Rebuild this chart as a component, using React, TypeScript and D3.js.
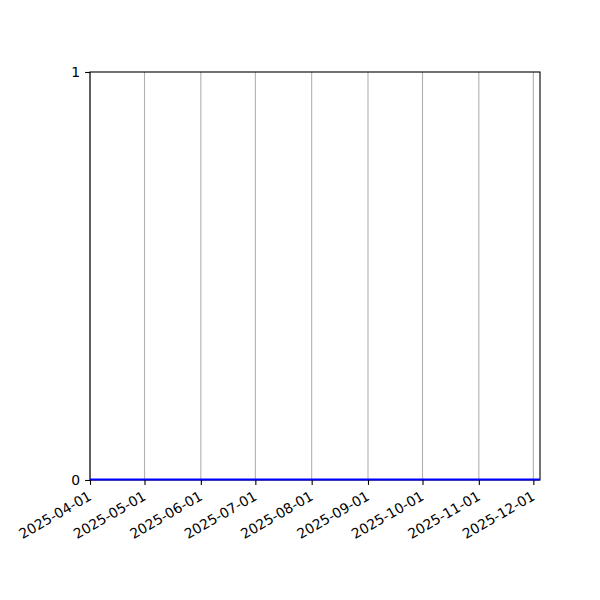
import React, { useEffect, useRef } from 'react';
import * as d3 from 'd3';

// series is flat at zero across the whole range
const dates = ['2025-04-01', '2025-05-01', '2025-06-01', '2025-07-01', '2025-08-01', '2025-09-01', '2025-10-01', '2025-11-01', '2025-12-01', '2025-12-04T16:00'];
const values = [0, 0, 0, 0, 0, 0, 0, 0, 0, 0];
const tickDates = ['2025-04-01', '2025-05-01', '2025-06-01', '2025-07-01', '2025-08-01', '2025-09-01', '2025-10-01', '2025-11-01', '2025-12-01'];
const yTicks = [0, 1];

interface Point {
  date: Date;
  value: number;
}

const App: React.FC = () => {
  const ref = useRef<SVGSVGElement>(null);

  useEffect(() => {
    const data: Point[] = dates.map((d, i) => ({ date: new Date(d + (d.length === 10 ? 'T00:00' : '')), value: values[i] }));
    const margin = { top: 72, right: 60, bottom: 120, left: 90 };
    const width = 600 - margin.left - margin.right;
    const height = 600 - margin.top - margin.bottom;

    const root = d3.select(ref.current);
    root.selectAll('*').remove();
    const svg = root.append('g').attr('transform', `translate(${margin.left},${margin.top})`);

    const x = d3
      .scaleTime()
      .domain(d3.extent(data, (d) => d.date) as [Date, Date])
      .range([0, width]);
    const y = d3.scaleLinear().domain([0, 1]).range([height, 0]);

    const ticks = tickDates.map((d) => new Date(d + 'T00:00'));

    // vertical grid lines
    svg
      .append('g')
      .selectAll('line')
      .data(ticks)
      .join('line')
      .attr('x1', (d) => x(d))
      .attr('x2', (d) => x(d))
      .attr('y1', 0)
      .attr('y2', height)
      .attr('stroke', '#b0b0b0')
      .attr('stroke-width', 1.1);

    // frame
    svg
      .append('rect')
      .attr('width', width)
      .attr('height', height)
      .attr('fill', 'none')
      .attr('stroke', '#000')
      .attr('stroke-width', 1.1);

    // the line, drawn over the bottom spine
    const line = d3
      .line<Point>()
      .x((d) => x(d.date))
      .y((d) => y(d.value) - 0.6);
    svg
      .append('path')
      .datum(data)
      .attr('fill', 'none')
      .attr('stroke', '#0000ff')
      .attr('stroke-width', 2)
      .attr('d', line);

    // x axis
    const xa = svg
      .append('g')
      .attr('transform', `translate(0,${height})`)
      .call(d3.axisBottom(x).tickValues(ticks).tickFormat(d3.timeFormat('%Y-%m-%d') as any).tickSize(4.9).tickPadding(0));
    xa.select('.domain').remove();
    xa.selectAll('.tick line').attr('stroke', '#000').attr('stroke-width', 1.1);
    xa.selectAll('.tick text')
      .attr('font-family', 'DejaVu Sans')
      .attr('font-size', 13.9)
      .attr('fill', '#000')
      .attr('text-anchor', 'end')
      .attr('dy', null)
      .attr('y', null)
      .attr('transform', 'translate(2,19) rotate(-30)');

    // y axis
    const ya = svg.append('g').call(d3.axisLeft(y).tickValues(yTicks).tickFormat(d3.format('d')).tickSize(4.9).tickPadding(4.9));
    ya.select('.domain').remove();
    ya.selectAll('.tick line').attr('stroke', '#000').attr('stroke-width', 1.1);
    ya.selectAll('.tick text').attr('font-family', 'DejaVu Sans').attr('font-size', 13.9).attr('fill', '#000');
  }, []);

  return <svg ref={ref} width={600} height={600} style={{ display: 'block', margin: -8, background: '#fff' }} />;
};

export default App;
